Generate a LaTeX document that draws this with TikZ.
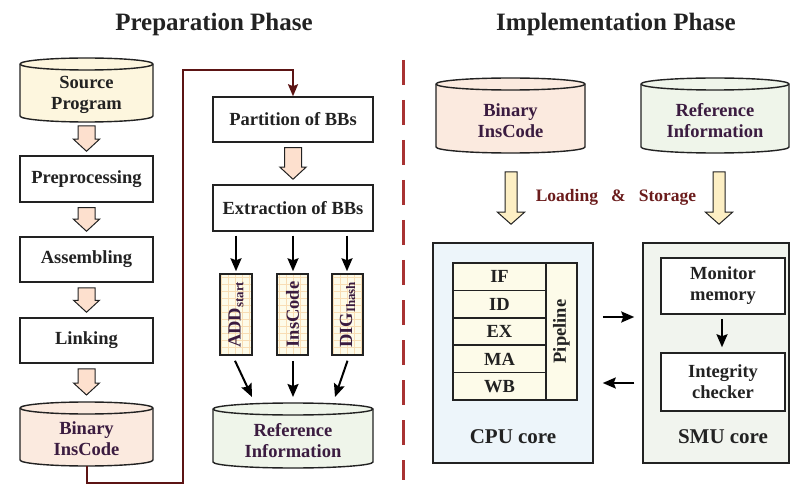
\documentclass[tikz,border=0pt]{standalone}
\usepackage{fontspec}
\setmainfont{Liberation Serif}
\usetikzlibrary{calc,arrows.meta}

\definecolor{inkC}{HTML}{222222}
\definecolor{plumC}{HTML}{3B1C40}
\definecolor{maroonC}{HTML}{5C1414}
\definecolor{dashC}{HTML}{A83232}
\definecolor{labelC}{HTML}{6B1C1C}
\definecolor{srcFill}{HTML}{FDF6DE}
\definecolor{binFill}{HTML}{FBEADF}
\definecolor{refFill}{HTML}{EFF5EA}
\definecolor{peachFill}{HTML}{FDE0CE}
\definecolor{loadFill}{HTML}{FDEFC4}
\definecolor{cpuFill}{HTML}{EDF5FA}
\definecolor{smuFill}{HTML}{F1F4EE}
\definecolor{pipeFill}{HTML}{FDFBE9}
\definecolor{gridC}{HTML}{F8DDB4}

\tikzset{
  stepbox/.style={draw=inkC, line width=1.5pt, fill=white, text=inkC, align=center, inner sep=0pt},
  stagebox/.style={draw=inkC, line width=1.5pt, fill=pipeFill, text=inkC, align=center, inner sep=0pt},
  corebox/.style={draw=inkC, line width=1.5pt, inner sep=0pt},
  coretext/.style={text=inkC, inner sep=0pt, font=\bfseries\fontsize{21}{24}\selectfont},
  titletext/.style={text=inkC, inner sep=0pt, font=\bfseries\fontsize{25}{28}\selectfont},
  loadtext/.style={text=labelC, inner sep=0pt, font=\bfseries\fontsize{17.5}{20}\selectfont},
  drumedge/.style={draw=inkC, line width=1.4pt},
  shapebox/.style={inner sep=0pt, outer sep=0pt},
  drumlabel/.style={align=center, inner sep=0pt},
  fatedge/.style={draw=inkC, line width=1pt, line join=miter},
  fieldbox/.style={draw=inkC, line width=1.5pt, fill=pipeFill, text=plumC, inner sep=0pt,
    minimum width=32pt, minimum height=81pt,
    path picture={\draw[gridC, line width=0.5pt, step=7pt]
      (path picture bounding box.south west) grid (path picture bounding box.north east);}},
  thinarrow/.style={draw=black, line width=2pt, -{Stealth[length=13pt,width=11pt,inset=2pt]}},
  loopline/.style={draw=maroonC, line width=2pt, -{Stealth[length=12pt,width=10pt,inset=2pt]}},
}

% storage drum: name, centre x, centre y, width, height, fill, text, text colour
\newcommand\drum[8]{%
  \pgfmathsetmacro\drumrx{#4/2}%
  \pgfmathsetmacro\drumh{#5/2-6}%
  \filldraw[drumedge, fill=#6] ({#2-\drumrx},{#3+\drumh}) -- ({#2-\drumrx},{#3-\drumh})
    arc[start angle=180, end angle=360, x radius=\drumrx pt, y radius=6pt]
    -- ({#2+\drumrx},{#3+\drumh})
    arc[start angle=0, end angle=180, x radius=\drumrx pt, y radius=6pt] -- cycle;
  \draw[drumedge] ({#2-\drumrx},{#3+\drumh})
    arc[start angle=180, end angle=360, x radius=\drumrx pt, y radius=6pt];
  \node[shapebox, minimum width=#4pt, minimum height=#5pt] (#1) at (#2,#3) {};
  \node[drumlabel, text=#8] (#1-text) at (#2,{#3-5}) {#7};
}

% block arrow pointing down: fill, start, end, half shaft, half head, head length
\newcommand\fatarrow[6]{%
  \filldraw[fatedge, fill=#1] let \p1=#2, \p2=#3 in
    (\x1-#4pt,\y1) -- (\x1+#4pt,\y1) -- (\x1+#4pt,\y2+#6pt) -- (\x1+#5pt,\y2+#6pt)
    -- (\x1,\y2) -- (\x1-#5pt,\y2+#6pt) -- (\x1-#4pt,\y2+#6pt) -- cycle;
}

\begin{document}
\begin{tikzpicture}[x=1pt, y=1pt, font=\bfseries\fontsize{18.5}{21}\selectfont]
\useasboundingbox (0,0) rectangle (790,488);

% headings
\node[titletext, anchor=base] (prepTitle) at (214,457) {Preparation Phase};
\node[titletext, anchor=base] (implTitle) at (616,457) {Implementation Phase};

% phase divider
\draw[dashC, line width=3pt, dash pattern=on 25pt off 15pt] (403,428) -- (403,8);

% ---- preparation: tool chain ----
\drum{src}{86.5}{398}{133}{64}{srcFill}{Source\\Program}{inkC}
\node[stepbox, minimum width=133pt, minimum height=46pt] (prep) at (86.5,309) {Preprocessing};
\node[stepbox, minimum width=133pt, minimum height=45pt] (asm) at (86.5,228.5) {Assembling};
\node[stepbox, minimum width=133pt, minimum height=45pt] (link) at (86.5,147.5) {Linking};
\drum{binL}{86.5}{54}{133}{64}{binFill}{Binary\\InsCode}{plumC}

\fatarrow{peachFill}{($(src.south)+(0,-4)$)}{($(prep.north)+(0,4)$)}{8.5}{13}{12}
\fatarrow{peachFill}{($(prep.south)+(0,-5)$)}{($(asm.north)+(0,5)$)}{8.5}{13}{12}
\fatarrow{peachFill}{($(asm.south)+(0,-5)$)}{($(link.north)+(0,5)$)}{8.5}{13}{12}
\fatarrow{peachFill}{($(link.south)+(0,-5)$)}{($(binL.north)+(0,7)$)}{8.5}{13}{12}

% ---- preparation: basic block analysis ----
\node[stepbox, minimum width=160pt, minimum height=45pt] (part) at (293,368.5) {Partition of BBs};
\node[stepbox, minimum width=160pt, minimum height=46pt] (extr) at (293,280) {Extraction of BBs};
\fatarrow{peachFill}{($(part.south)+(0,-5)$)}{($(extr.north)+(0,5)$)}{8.5}{13}{12}

\coordinate (loopLow) at (183,5);
\coordinate (loopHigh) at (183,418);
\draw[loopline] (binL.south) |- (loopLow) -- (loopHigh) -| (part.north);

\node[fieldbox] (fAdd) at (236,173.5) {\rotatebox{90}{ADD\textsubscript{start}}};
\node[fieldbox, minimum width=31pt] (fIns) at (292.5,173.5) {\rotatebox{90}{InsCode}};
\node[fieldbox, minimum width=31pt] (fDig) at (347.5,173.5) {\rotatebox{90}{DIG\textsubscript{Ihash}}};

\draw[thinarrow] ($(extr.south)+(-57,-4)$) -- ($(fAdd.north)+(0,2)$);
\draw[thinarrow] ($(extr.south)+(0,-4)$) -- ($(fIns.north)+(0.5,2)$);
\draw[thinarrow] ($(extr.south)+(54,-4)$) -- ($(fDig.north)+(-0.5,2)$);

\drum{refL}{293}{52.5}{160}{65}{refFill}{Reference\\Information}{plumC}

\draw[thinarrow] ($(fAdd.south)+(-1,-5)$) -- ($(refL.north)+(-41,6)$);
\draw[thinarrow] ($(fIns.south)+(0.5,-5)$) -- ($(refL.north)+(0,6)$);
\draw[thinarrow] ($(fDig.south)+(0,-5)$) -- ($(refL.north)+(42,6)$);

% ---- implementation ----
\drum{binR}{510.5}{372.5}{149}{75}{binFill}{Binary\\InsCode}{plumC}
\drum{refR}{715}{372.5}{148}{75}{refFill}{Reference\\Information}{plumC}

\node[corebox, fill=cpuFill, minimum width=160pt, minimum height=220pt] (cpu) at (513,135) {};
\node[corebox, fill=smuFill, minimum width=146pt, minimum height=220pt] (smu) at (716,135) {};

\fatarrow{loadFill}{($(binR.south)+(0.5,-19)$)}{($(cpu.north)+(0,18)$)}{6}{13.5}{12}
\fatarrow{loadFill}{($(refR.south)+(4,-19)$)}{($(smu.north)+(0,18)$)}{6}{13.5}{12}
\node[loadtext] (loadLbl) at (616,291) {Loading\hspace{0.75em}\&\hspace{0.75em}Storage};

% pipeline stages
\foreach \stage [count=\i] in {IF,ID,EX,MA,WB}
  \node[stagebox, minimum width=93pt, minimum height=27.4pt] (st\i) at (499.5,{225-13.7-(\i-1)*27.4}) {\stage};
\node[stagebox, minimum width=31pt, minimum height=137pt] (pipe) at (561.5,156.5) {\rotatebox{90}{Pipeline}};
\node[coretext] (cpuLbl) at (513,51) {CPU core};

% monitoring unit
\node[stepbox, minimum width=124pt, minimum height=56pt] (mon) at (723,202) {Monitor\\memory};
\node[stepbox, minimum width=124pt, minimum height=58pt] (integ) at (723,106) {Integrity\\checker};
\draw[thinarrow] ($(mon.south)+(-1,-4)$) -- ($(integ.north)+(-1,5)$);
\node[coretext] (smuLbl) at (723,51) {SMU core};

\draw[thinarrow] ($(cpu.east)+(9,36)$) -- ($(smu.west)+(-8,36)$);
\draw[thinarrow] ($(smu.west)+(-8,-30)$) -- ($(cpu.east)+(9,-30)$);
\end{tikzpicture}
\end{document}
